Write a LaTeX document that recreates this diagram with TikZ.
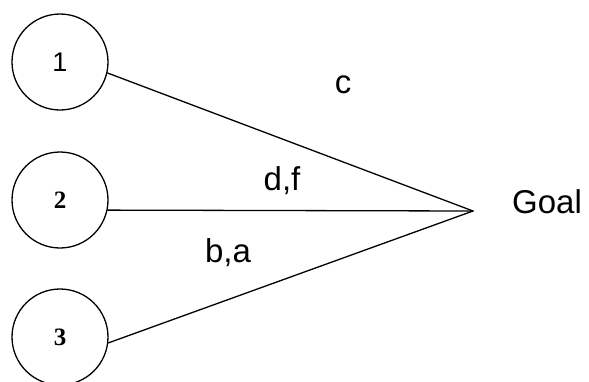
\documentclass[tikz,border=0pt]{standalone}
\usepackage{fontspec}
\setmainfont{Liberation Sans}
\newfontfamily\numfont{Liberation Serif}

\begin{document}
\begin{tikzpicture}[
            x=1pt, y=-1pt,
            line cap=round,
            line join=round,
            state/.style={draw, circle, line width=1.3pt, minimum size=96pt, inner sep=0pt},
            edgelabel/.style={font=\fontsize{33}{33}\selectfont, anchor=base}
        ]

        \useasboundingbox (0,0) rectangle (589,381);

        % Source states
        \node[state, font=\fontsize{27}{27}\selectfont] (s1) at (60,62) {1};
        \node[state, font=\numfont\bfseries\fontsize{25}{25}\selectfont] (s2) at (60,200) {2};
        \node[state, font=\numfont\bfseries\fontsize{25}{25}\selectfont] (s3) at (60,337) {3};

        % Goal point and its label
        \coordinate (G) at (473,211);
        \node[anchor=base west, inner sep=0pt, font=\fontsize{33}{33}\selectfont] (goal) at (512,213) {Goal};

        % Edges into the goal
        \draw[line width=1.3pt] (s1.-13) -- (G);
        \draw[line width=1.3pt] (s2.-12) -- (G);
        \draw[line width=1.3pt] (s3.-7) -- (G);

        % Edge labels
        \node[edgelabel] (lc) at (343,93) {c};
        \node[edgelabel] (ldf) at (282,190) {d,f};
        \node[edgelabel] (lba) at (228,262) {b,a};

        \end{tikzpicture}
\end{document}
